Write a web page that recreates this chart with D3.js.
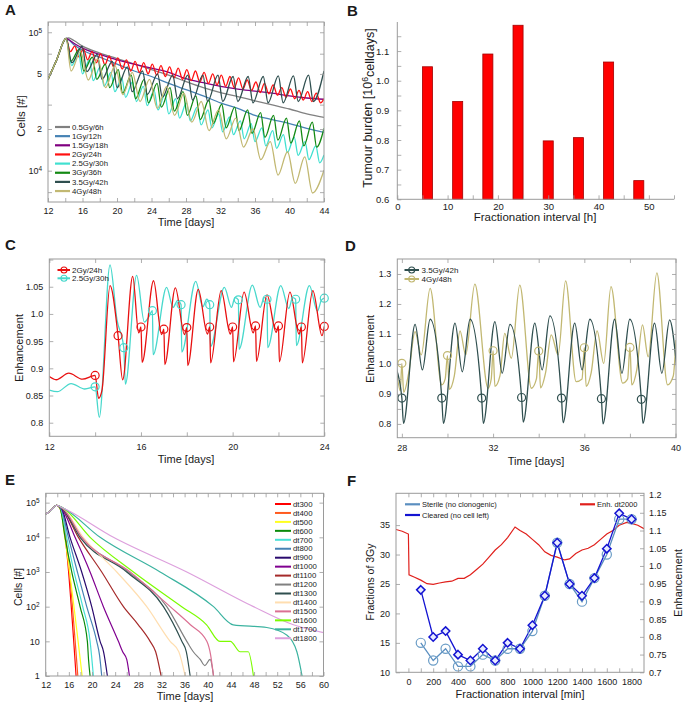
<!DOCTYPE html>
<html><head><meta charset="utf-8">
<script src="https://cdn.jsdelivr.net/npm/d3@7"></script>
<style>body{margin:0;background:#fff;}</style>
</head><body>
<svg id="fig" width="684" height="705"></svg>
<script>
// ================= DATA =================
// Panel A : cells (thousands) vs time (days)
const a_common = [[12,45.7],[13,63.1],[14.1,90.2]];
const a_gray = [[14.1,90.2],[14.4,91.2],[15,87.1],[16,79.4],[18,70.8],[20,64.6],[22,58.9],[24,53.7],[26,49.0],[28,44.0],[30,39.8],[32,36.7],[34,34.3],[36,32.0],[38,29.9],[40,27.9],[42,25.7],[44,24.3]];
const a_blue = [[14.1,90.2],[14.3,89.1],[15,81.3],[16,74.1],[18,66.1],[20,58.9],[22,52.5],[24,47.9],[26,42.7],[28,38.5],[30,34.7],[32,30.9],[34,28.2],[36,25.1],[38,23.4],[40,21.9],[42,20.2],[44,18.9]];
const a_purple = [[14.1,90.2],[14.3,89.1],[15,83.2],[16,76.7],[18,69.2],[20,63.1],[22,58.9],[24,55.0],[26,51.3],[28,46.2],[30,43.2],[32,40.7],[34,38.9],[36,37.6],[38,36.3],[40,34.7],[42,33.5],[44,32.8]];
const a_red = [[14.1,90.2],[14.6,72.4],[15.1,79.4],[15.6,66.1],[16.1,75.9],[16.6,63.1],[17.1,72.4],[17.6,60.3],[18.1,70.0],[18.6,58.2],[19.1,67.6],[19.6,56.2],[20.1,65.3],[20.6,54.3],[21.1,63.1],[21.6,52.5],[22.1,61.7],[22.6,51.3],[23.1,60.3],[23.6,50.1],[24.1,58.9],[24.6,49.0],[25.1,57.5],[25.6,47.9],[26.1,56.2],[26.6,46.8],[27.1,55.0],[27.6,45.7],[28.1,53.7],[28.6,44.7],[29.1,52.5],[29.6,43.7],[30.1,51.3],[30.6,42.7],[31.1,50.1],[31.6,41.7],[32.1,49.0],[32.6,40.7],[33.1,47.9],[33.6,39.8],[34.1,46.8],[34.6,38.9],[35.1,45.2],[35.6,38.0],[36.1,43.7],[36.6,36.7],[37.1,42.7],[37.6,35.9],[38.1,41.7],[38.6,35.1],[39.1,39.8],[39.6,33.9],[40.1,38.9],[40.6,33.1],[41.1,38.0],[41.6,32.4],[42.1,37.2],[42.6,31.6],[43.1,36.3],[43.6,30.9],[44,33.0]];
const a_turq = [[14.1,90.2],[14.75,57.5],[15.55,70.8],[16.0,50.1],[16.8,63.1],[17.25,44.7],[18.05,56.2],[18.5,40.7],[19.3,51.3],[19.75,37.2],[20.55,46.8],[21.0,33.9],[21.8,43.7],[22.25,31.6],[23.05,40.7],[23.5,29.5],[24.3,38.0],[24.75,27.5],[25.55,35.5],[26.0,25.7],[26.8,33.1],[27.25,24.0],[28.05,30.9],[28.5,22.9],[29.3,28.8],[29.75,21.4],[30.55,27.5],[31.0,20.4],[31.8,25.7],[32.25,19.1],[33.05,24.5],[33.5,18.2],[34.3,22.9],[34.75,17.0],[35.55,21.9],[36.0,16.2],[36.8,20.4],[37.25,15.1],[38.05,19.5],[38.5,14.5],[39.3,18.2],[39.75,13.5],[40.55,17.4],[41.0,12.9],[41.8,16.2],[42.25,12.0],[43.05,15.1],[43.5,11.4],[44,13.0]];
const a_green = [[14.1,90.2],[14.65,61.7],[15.65,75.9],[16.15,52.5],[17.15,66.1],[17.65,45.7],[18.65,58.9],[19.15,39.8],[20.15,53.7],[20.65,36.3],[21.65,49.0],[22.15,33.1],[23.15,45.7],[23.65,30.9],[24.65,42.7],[25.15,28.8],[26.15,39.8],[26.65,26.9],[27.65,37.2],[28.15,25.1],[29.15,34.7],[29.65,23.4],[30.65,32.4],[31.15,21.9],[32.15,30.2],[32.65,20.4],[33.65,28.8],[34.15,19.5],[35.15,27.5],[35.65,18.6],[36.65,26.3],[37.15,17.4],[38.15,25.1],[38.65,16.6],[39.65,24.0],[40.15,15.8],[41.15,22.9],[41.65,15.1],[42.65,22.4],[43.15,14.8],[44,20.2]];
const a_dark = [[14.1,90.2],[14.76,60.3],[15.96,79.4],[16.51,51.9],[17.71,69.2],[18.26,45.7],[19.46,61.7],[20.01,39.8],[21.21,56.2],[21.76,37.2],[22.96,52.5],[23.51,35.5],[24.71,50.1],[25.26,33.9],[26.46,49.0],[27.01,33.1],[28.21,49.0],[28.76,32.4],[29.96,49.0],[30.51,31.6],[31.71,49.0],[32.26,31.6],[33.46,47.9],[34.01,31.6],[35.21,47.9],[35.76,30.9],[36.96,47.9],[37.51,30.9],[38.71,48.4],[39.26,30.9],[40.46,48.4],[41.01,31.6],[42.21,49.0],[42.76,31.6],[44,52.5]];
const a_khaki = [[14.1,90.2],[14.67,52.5],[15.77,72.4],[16.67,45.2],[17.77,64.6],[18.67,39.8],[19.77,57.5],[20.67,35.5],[21.77,51.3],[22.67,31.6],[23.77,45.7],[24.67,28.2],[25.77,40.7],[26.67,25.1],[27.77,36.3],[28.67,22.4],[29.77,31.6],[30.67,19.5],[31.77,27.5],[32.67,17.0],[33.77,24.0],[34.67,14.8],[35.77,20.0],[36.67,12.0],[37.77,16.2],[38.67,9.3],[39.77,13.7],[40.67,8.1],[41.77,12.6],[42.67,6.9],[44,10.1]];
const a_names = ["0.5Gy/6h","1Gy/12h","1.5Gy/18h","2Gy/24h","2.5Gy/30h","3Gy/36h","3.5Gy/42h","4Gy/48h"];
const a_colors = ["#808080","#4682b4","#800080","#ff1010","#40e0d0","#138a13","#2f4f4f","#c2b872"];
const a_xTicks = [12,14,16,18,20,22,24,26,28,30,32,34,36,38,40,42,44];
const a_xLabels = ["12","","16","","20","","24","","28","","32","","36","","40","","44"];
const a_yTicks = [7,10,20,30,50,70,100];
const a_yLabels = ["","10^4","2","","5","","10^5"];

// Panel B : tumour burden (10^6 celldays) vs fractionation interval (h)
const b_interval = [6,12,18,24,30,36,42,48];
const b_burden = [1.047,0.930,1.090,1.187,0.797,0.808,1.063,0.663];
const b_xTicks = [0,5,10,15,20,25,30,35,40,45,50,55];
const b_xLabels = ["0","","10","","20","","30","","40","","50",""];
const b_yTicks = [0.6,0.65,0.7,0.75,0.8,0.85,0.9,0.95,1.0,1.05,1.1,1.15];
const b_yLabels = ["0.6","","0.7","","0.8","","0.9","","1.0","","1.1",""];

// Panel C : enhancement vs time (days)
const c_red = [[12,0.885],[12.3,0.879],[12.85,0.891],[13.45,0.880],[13.9,0.886],[14.0,0.887],[14.15,0.845],[14.3,0.86],[14.65,1.052],[15.0,0.96],[15.2,0.879],[15.64,1.069],[15.9,0.965],[16.0,0.976],[16.05,0.911],[16.55,1.061],[16.9,0.962],[17.0,0.972],[17.04,0.907],[17.5,1.048],[17.9,0.962],[18.0,0.975],[18.04,0.905],[18.5,1.045],[18.9,0.963],[19.0,0.976],[19.04,0.91],[19.5,1.043],[19.9,0.963],[20.0,0.976],[20.04,0.912],[20.5,1.04],[20.9,0.965],[21.0,0.978],[21.04,0.913],[21.5,1.035],[21.9,0.966],[22.0,0.978],[22.04,0.912],[22.5,1.04],[22.9,0.963],[23.0,0.976],[23.04,0.91],[23.5,1.043],[23.9,0.96],[24.0,0.977]];
const c_redDoses = [[14,0.887],[15,0.96],[16,0.976],[17,0.972],[18,0.975],[19,0.976],[20,0.976],[21,0.978],[22,0.978],[23,0.976],[24,0.977]];
const c_turq = [[12,0.86],[12.35,0.857],[12.95,0.872],[13.55,0.862],[14,0.866],[14.18,0.81],[14.65,1.09],[14.95,0.99],[15.25,0.938],[15.32,0.871],[15.81,1.071],[16.15,0.985],[16.35,0.995],[16.5,1.006],[16.53,0.925],[17.12,1.049],[17.4,1.012],[17.6,1.025],[17.75,1.017],[17.78,0.93],[18.39,1.06],[18.7,1.013],[18.87,1.027],[19.0,1.017],[19.03,0.94],[19.64,1.049],[19.95,1.012],[20.1,1.03],[20.25,1.026],[20.28,0.935],[20.86,1.053],[21.2,1.012],[21.38,1.03],[21.5,1.027],[21.53,0.938],[22.1,1.052],[22.45,1.01],[22.62,1.03],[22.75,1.027],[22.78,0.942],[23.35,1.052],[23.7,1.005],[23.87,1.025],[24,1.029]];
const c_turqDoses = [[14,0.866],[15.25,0.938],[16.5,1.006],[17.75,1.017],[19,1.017],[20.25,1.026],[21.5,1.027],[22.75,1.027],[24,1.029]];
const c_xTicks = [12,14,16,18,20,22,24];
const c_xLabels = ["12","","16","","20","","24"];
const c_yTicks = [0.8,0.85,0.9,0.95,1.0,1.05,1.1];
const c_yLabels = ["0.8","0.85","0.9","0.95","1.0","1.05",""];

// Panel D : enhancement vs time (days)
const d_dark = [[27.75,0.985],[28,0.886],[28.07,0.802],[28.58,1.132],[28.9,0.98],[29.24,1.149],[29.75,0.886],[29.82,0.802],[30.33,1.136],[30.65,0.974],[30.99,1.149],[31.5,0.886],[31.57,0.802],[32.08,1.141],[32.4,0.969],[32.74,1.132],[33.25,0.888],[33.32,0.806],[33.83,1.136],[34.15,0.98],[34.49,1.16],[35,0.886],[35.07,0.804],[35.58,1.136],[35.9,0.98],[36.24,1.149],[36.75,0.884],[36.82,0.8],[37.33,1.149],[37.65,0.969],[37.99,1.149],[38.5,0.882],[38.57,0.802],[39.08,1.136],[39.4,0.969],[39.74,1.147],[40.05,0.99]];
const d_darkDoses = [[28,0.886],[29.75,0.886],[31.5,0.886],[33.25,0.888],[35,0.886],[36.75,0.884],[38.5,0.882]];
const d_khaki = [[27.8,0.96],[27.93,0.91],[28,1.002],[28.08,0.905],[28.3,0.97],[28.58,1.108],[28.85,1.03],[29.24,1.252],[29.75,0.93],[29.9,0.95],[30,1.028],[30.08,0.915],[30.3,0.96],[30.55,1.11],[30.8,1.03],[31.2,1.266],[31.78,0.919],[31.92,0.95],[32,1.044],[32.08,0.925],[32.3,0.96],[32.51,1.102],[32.8,1.019],[33.17,1.263],[33.68,0.919],[33.9,0.95],[34,1.043],[34.08,0.92],[34.3,0.97],[34.55,1.097],[34.85,1.03],[35.18,1.277],[35.64,0.941],[35.9,0.95],[36,1.054],[36.08,0.925],[36.3,0.97],[36.56,1.11],[36.85,1.002],[37.17,1.258],[37.68,0.936],[37.9,0.95],[38,1.055],[38.08,0.93],[38.3,0.98],[38.55,1.13],[38.8,1.024],[39.18,1.304],[39.65,0.93],[39.9,0.96],[40.02,1.08]];
const d_khakiDoses = [[28,1.002],[30,1.028],[32,1.044],[34,1.043],[36,1.054],[38,1.055]];
const d_xTicks = [28,30,32,34,36,38,40];
const d_xLabels = ["28","","32","","36","","40"];
const d_yTicks = [0.8,0.85,0.9,0.95,1.0,1.05,1.1,1.15,1.2,1.25,1.3];
const d_yLabels = ["0.8","","0.9","","1.0","","1.1","","1.2","","1.3"];

// Panel E : cells vs time for fractionation intervals dt (min)
const e_common = [[12,4.6e4],[13,6.2e4],[13.9,8.4e4]];
const e_names = ["dt300","dt400","dt500","dt600","dt700","dt800","dt900","dt1000","dt1100","dt1200","dt1300","dt1400","dt1500","dt1600","dt1700","dt1800"];
const e_colors = ["#ff0000","#ff5a1e","#ffff20","#0a8a0a","#48e0d6","#4682b4","#2a0a6e","#800090","#a52a2a","#808080","#2f4f4f","#ffdeb0","#db7093","#7cfc00","#3cb3a0","#dda0dd"];
const e_series = [
  [[14.5,6.8e4],[17.25,1]],
  [[14.5,6.8e4],[17.55,1]],
  [[14.5,6.8e4],[15.3,1e4],[18.3,1]],
  [[14.5,6.8e4],[15.34,1e4],[16.5,1e3],[17.94,100],[19.2,10],[19.4,3],[19.67,1]],
  [[14.6,6.8e4],[15.63,1e4],[16.9,1e3],[18.4,100],[19.67,10],[20.24,1]],
  [[14.6,7e4],[15.92,1e4],[17.48,1e3],[19.09,100],[20.82,10],[21.3,4],[21.68,1]],
  [[14.7,7e4],[16.2,1e4],[18.22,1e3],[19.95,100],[21.4,10],[22.0,5],[22.66,1]],
  [[14.7,7e4],[17.07,1e4],[19.67,1e3],[21.97,100],[24.56,10],[25.3,5],[26,3],[26.47,1]],
  [[14.8,7e4],[17.65,1e4],[21.68,1e3],[25.43,100],[28,30],[30.04,10],[31,5],[31.94,1]],
  [[14.8,7e4],[18.22,1e4],[26.3,1e3],[32.92,100],[36.38,10],[37.5,5],[38.7,3],[39.5,2],[40.4,3],[41,1]],
  [[14.8,7e4],[17.94,1e4],[26,1e3],[32.35,100],[35.52,10],[36.3,5],[36.96,1]],
  [[14.9,7e4],[18.5,1e4],[24.28,1e3],[29.46,100],[33.5,10],[35,5],[36.1,1]],
  [[14.9,7e4],[18.22,1e4],[26.6,1e3],[33.5,100],[37,30],[39.84,10],[40.5,4],[41,1]],
  [[15,7e4],[19.67,1e4],[27.16,1e3],[35.5,100],[39.8,30],[42.1,10],[43.9,10],[45.6,5],[47,5],[47.9,1]],
  [[15,7e4],[21.4,1e4],[31.77,1e3],[41,100],[44.4,30],[50.2,25],[53.7,15],[55.4,5],[56.3,1]],
  [[15,7e4],[23.7,1e4],[36.38,1e3],[47.9,100],[54.8,30],[60,17.8]]
];
const e_xTicks = [12,14,16,18,20,22,24,26,28,30,32,34,36,38,40,42,44,46,48,50,52,54,56,58,60];
const e_xLabels = e_xTicks.map(d => d % 4 === 0 ? String(d) : "");
const e_yTicks = [1,10,100,1000,10000,100000];
const e_yLabels = ["1","10","10^2","10^3","10^4","10^5"];

// Panel F : fractions of 3Gy and enhancement vs fractionation interval (min)
const f_interval = [100,200,300,400,500,600,700,800,900,1000,1100,1200,1300,1400,1500,1600,1700,1800];
const f_sterile = [15,12,14,11,11,13,12,14,14,17,23,32,25,22,26,30,36,36];
const f_cleared = [24,16,17,13,12,14,12,15,14,18,23,32,25,23,26,31,37,36];
const f_enh = [[-100,1.103],[-50,1.098],[0,1.09],[5,0.975],[50,0.968],[100,0.96],[150,0.95],[200,0.948],[250,0.952],[300,0.955],[350,0.957],[400,0.965],[450,0.965],[500,0.975],[550,0.99],[600,1.005],[650,1.025],[700,1.045],[750,1.06],[800,1.08],[860,1.11],[900,1.1],[950,1.09],[1000,1.075],[1050,1.06],[1100,1.04],[1150,1.03],[1200,1.025],[1260,1.017],[1300,1.02],[1350,1.035],[1400,1.045],[1450,1.05],[1500,1.06],[1550,1.075],[1600,1.09],[1650,1.1],[1700,1.115],[1760,1.123],[1800,1.12],[1850,1.115],[1900,1.105]];
const f_xTicks = [0,100,200,300,400,500,600,700,800,900,1000,1100,1200,1300,1400,1500,1600,1700,1800];
const f_xLabels = f_xTicks.map(d => d % 200 === 0 ? String(d) : "");
const f_yTicks = [10,15,20,25,30,35];
const f_yLabels = ["10","15","20","25","30","35"];
const f_rTicks = [0.7,0.75,0.8,0.85,0.9,0.95,1.0,1.05,1.1,1.15,1.2];
const f_rLabels = ["0.7","0.75","0.8","0.85","0.9","0.95","1.0","1.05","1.1","1.15","1.2"];

// ================= DRAWING =================
const FONT = '"Liberation Sans", Arial, Helvetica, sans-serif';
const FR = "#9a9a9a";
const TXT = "#1a1a1a";
const svg = d3.select("#fig").attr("font-family", FONT);
const defs = svg.append("defs");

function sup(g) {
  g.selectAll("text").each(function() {
    const t = d3.select(this), s = t.text();
    if (s.includes("^")) {
      const [b, e] = s.split("^");
      t.text(b);
      t.append("tspan").attr("dy", "-0.45em").attr("font-size", "0.72em").text(e);
    }
  });
}
function drawAxis(orient, scale, pos, ticks, labels, o = {}) {
  const gen = {b: d3.axisBottom, t: d3.axisTop, l: d3.axisLeft, r: d3.axisRight}[orient](scale)
    .tickValues(ticks).tickSize(-(o.len ?? 4)).tickPadding(o.pad ?? 5)
    .tickFormat((d, i) => labels ? labels[i] : "");
  const tr = (orient === "b" || orient === "t") ? `translate(0,${pos})` : `translate(${pos},0)`;
  const g = svg.append("g").attr("transform", tr).call(gen);
  g.attr("font-family", FONT).attr("font-size", null);
  g.select(".domain").remove();
  g.selectAll(".tick line").attr("stroke", FR).attr("stroke-width", 0.8);
  g.selectAll(".tick text").attr("fill", TXT).attr("font-size", (o.fs || 9) + "px");
  sup(g);
  return g;
}
function frame(x, y) {
  const [x0, x1] = x.range(), [y0, y1] = y.range();
  svg.append("rect").attr("x", x0).attr("y", y1).attr("width", x1 - x0).attr("height", y0 - y1)
    .attr("fill", "none").attr("stroke", FR).attr("stroke-width", 1);
}
function clip(id, x, y) {
  const [x0, x1] = x.range(), [y0, y1] = y.range();
  defs.append("clipPath").attr("id", id).append("rect")
    .attr("x", x0).attr("y", y1).attr("width", x1 - x0).attr("height", y0 - y1);
  return svg.append("g").attr("clip-path", `url(#${id})`);
}
function label(x, y, s, o = {}) {
  const t = svg.append("text").attr("x", x).attr("y", y).text(s)
    .attr("font-size", (o.fs || 11) + "px").attr("fill", TXT)
    .attr("text-anchor", o.anchor || "start").attr("font-weight", o.bold ? "bold" : "normal");
  if (o.rot) t.attr("x", 0).attr("y", 0).attr("transform", `translate(${x},${y}) rotate(-90)`);
  return t;
}
const mono = (x, y) => d3.line().x(d => x(d[0])).y(d => y(d[1])).curve(d3.curveMonotoneX);

// ---------- Panel A ----------
{
  const x = d3.scaleLinear().domain([12, 44]).range([48, 324]);
  const y = d3.scaleLog().domain([5.94, 118.6]).range([202, 22]);
  const g = clip("clipA", x, y);
  const series = [a_gray, a_blue, a_purple, a_red, a_turq, a_green, a_dark, a_khaki];
  series.forEach((s, i) => {
    g.append("path").datum(a_common.concat(s.slice(1))).attr("d", mono(x, y))
      .attr("fill", "none").attr("stroke", a_colors[i]).attr("stroke-width", 1.3);
  });
  frame(x, y);
  drawAxis("b", x, 202, a_xTicks, a_xLabels, {pad: 5.5});
  drawAxis("t", x, 22, a_xTicks, null);
  drawAxis("l", y, 48, a_yTicks, a_yLabels, {pad: 6});
  drawAxis("r", y, 324, a_yTicks, null);
  a_names.forEach((n, i) => {
    const yy = 127 + 9.15 * i;
    svg.append("line").attr("x1", 55).attr("x2", 70).attr("y1", yy).attr("y2", yy)
      .attr("stroke", a_colors[i]).attr("stroke-width", 2.2);
    label(72, yy + 2.7, n, {fs: 7.8});
  });
  label(186, 226, "Time [days]", {fs: 11, anchor: "middle"});
  label(25, 116, "Cells [#]", {fs: 11.5, anchor: "middle", rot: true});
  label(5, 15, "A", {fs: 15, bold: true});
}

// ---------- Panel B ----------
{
  const x = d3.scaleLinear().domain([0, 55]).range([397.3, 674]);
  const y = d3.scaleLinear().domain([0.6, 1.198]).range([199.3, 22]);
  svg.append("g").selectAll("rect").data(b_interval).join("rect")
    .attr("x", (d) => x(d - 1)).attr("width", x(2) - x(0))
    .attr("y", (d, i) => y(b_burden[i])).attr("height", (d, i) => y(0.6) - y(b_burden[i]))
    .attr("fill", "#ff0000").attr("stroke", "#a30000").attr("stroke-width", 0.8);
  svg.append("line").attr("x1", 397.3).attr("x2", 397.3).attr("y1", 22).attr("y2", 199.3).attr("stroke", FR);
  svg.append("line").attr("x1", 397.3).attr("x2", 674).attr("y1", 199.3).attr("y2", 199.3).attr("stroke", FR);
  drawAxis("b", x, 199.3, b_xTicks, b_xLabels, {pad: 3.5, fs: 9.5});
  drawAxis("l", y, 397.3, b_yTicks, b_yLabels, {pad: 8, fs: 9.5});
  label(535, 221, "Fractionation interval [h]", {fs: 11.5, anchor: "middle"});
  const t = label(372, 108, "Tumour burden [10", {fs: 12.5, anchor: "middle", rot: true});
  t.append("tspan").attr("dy", "-0.45em").attr("font-size", "0.7em").text("6");
  t.append("tspan").attr("dy", "0.45em").text("celldays]");
  label(347, 16, "B", {fs: 15, bold: true});
}

// ---------- Panel C ----------
{
  const x = d3.scaleLinear().domain([12, 24]).range([49.3, 324.3]);
  const y = d3.scaleLinear().domain([0.775, 1.101]).range([436.3, 259]);
  const g = clip("clipC", x, y);
  g.append("path").datum(c_turq).attr("d", mono(x, y)).attr("fill", "none").attr("stroke", "#48d8cc").attr("stroke-width", 1.3);
  g.append("path").datum(c_red).attr("d", mono(x, y)).attr("fill", "none").attr("stroke", "#e81010").attr("stroke-width", 1.3);
  svg.append("g").selectAll("circle").data(c_turqDoses).join("circle")
    .attr("cx", d => x(d[0])).attr("cy", d => y(d[1])).attr("r", 4)
    .attr("fill", "none").attr("stroke", "#48d8cc").attr("stroke-width", 1.2);
  svg.append("g").selectAll("circle").data(c_redDoses).join("circle")
    .attr("cx", d => x(d[0])).attr("cy", d => y(d[1])).attr("r", 4)
    .attr("fill", "none").attr("stroke", "#e81010").attr("stroke-width", 1.2);
  frame(x, y);
  drawAxis("b", x, 436.3, c_xTicks, c_xLabels, {pad: 7});
  drawAxis("t", x, 259, c_xTicks, null);
  drawAxis("l", y, 49.3, c_yTicks, c_yLabels, {pad: 6});
  drawAxis("r", y, 324.3, c_yTicks, null);
  [["2Gy/24h", "#e81010", 270], ["2.5Gy/30h", "#48d8cc", 278.3]].forEach(([n, c, yy]) => {
    svg.append("line").attr("x1", 57.5).attr("x2", 70).attr("y1", yy).attr("y2", yy).attr("stroke", c).attr("stroke-width", 2);
    svg.append("circle").attr("cx", 64).attr("cy", yy).attr("r", 3).attr("fill", "none").attr("stroke", c).attr("stroke-width", 1.1);
    label(72, yy + 2.8, n, {fs: 8});
  });
  label(186, 462.5, "Time [days]", {fs: 11, anchor: "middle"});
  label(22.5, 348, "Enhancement", {fs: 11, anchor: "middle", rot: true});
  label(5, 250, "C", {fs: 15, bold: true});
}

// ---------- Panel D ----------
{
  const x = d3.scaleLinear().domain([27.8, 40.02]).range([397.3, 676]);
  const y = d3.scaleLinear().domain([0.754, 1.35]).range([437.7, 259]);
  const g = clip("clipD", x, y);
  g.append("path").datum(d_khaki).attr("d", mono(x, y)).attr("fill", "none").attr("stroke", "#c2b872").attr("stroke-width", 1.3);
  g.append("path").datum(d_dark).attr("d", mono(x, y)).attr("fill", "none").attr("stroke", "#2f4f4f").attr("stroke-width", 1.3);
  svg.append("g").selectAll("circle").data(d_khakiDoses).join("circle")
    .attr("cx", d => x(d[0])).attr("cy", d => y(d[1])).attr("r", 4)
    .attr("fill", "none").attr("stroke", "#c2b872").attr("stroke-width", 1.2);
  svg.append("g").selectAll("circle").data(d_darkDoses).join("circle")
    .attr("cx", d => x(d[0])).attr("cy", d => y(d[1])).attr("r", 4)
    .attr("fill", "none").attr("stroke", "#2f4f4f").attr("stroke-width", 1.2);
  frame(x, y);
  drawAxis("b", x, 437.7, d_xTicks, d_xLabels, {pad: 7});
  drawAxis("t", x, 259, d_xTicks, null);
  drawAxis("l", y, 397.3, d_yTicks, d_yLabels, {pad: 6});
  drawAxis("r", y, 676, d_yTicks, null);
  [["3.5Gy/42h", "#2f4f4f", 270], ["4Gy/48h", "#c2b872", 279]].forEach(([n, c, yy]) => {
    svg.append("line").attr("x1", 404.5).attr("x2", 419).attr("y1", yy).attr("y2", yy).attr("stroke", c).attr("stroke-width", 2);
    svg.append("circle").attr("cx", 411.7).attr("cy", yy).attr("r", 3).attr("fill", "none").attr("stroke", c).attr("stroke-width", 1.1);
    label(421.5, yy + 2.8, n, {fs: 8});
  });
  label(536, 464.5, "Time [days]", {fs: 11, anchor: "middle"});
  label(374, 349, "Enhancement", {fs: 11, anchor: "middle", rot: true});
  label(345, 251, "D", {fs: 15, bold: true});
}

// ---------- Panel E ----------
{
  const x = d3.scaleLinear().domain([12, 60]).range([45.7, 323.5]);
  const y = d3.scaleLog().domain([1, 1.86e5]).range([676, 493.3]);
  const g = clip("clipE", x, y);
  e_series.forEach((s, i) => {
    g.append("path").datum(e_common.concat(s)).attr("d", mono(x, y))
      .attr("fill", "none").attr("stroke", e_colors[i]).attr("stroke-width", 1.2);
  });
  frame(x, y);
  drawAxis("b", x, 676, e_xTicks, e_xLabels, {pad: 6});
  drawAxis("t", x, 493.3, e_xTicks, null);
  drawAxis("l", y, 45.7, e_yTicks, e_yLabels, {pad: 6});
  drawAxis("r", y, 323.5, e_yTicks, null);
  e_names.forEach((n, i) => {
    const yy = 504 + 8.95 * i;
    svg.append("line").attr("x1", 275).attr("x2", 291).attr("y1", yy).attr("y2", yy)
      .attr("stroke", e_colors[i]).attr("stroke-width", 2);
    label(293, yy + 2.7, n, {fs: 7.8});
  });
  label(185, 699.5, "Time [days]", {fs: 11, anchor: "middle"});
  label(22, 587, "Cells [#]", {fs: 10.5, anchor: "middle", rot: true});
  label(5, 485, "E", {fs: 15, bold: true});
}

// ---------- Panel F ----------
{
  const x = d3.scaleLinear().domain([-100, 1900]).range([396, 644]);
  const y = d3.scaleLinear().domain([10, 40.4]).range([672.3, 493.3]);
  const yr = d3.scaleLinear().domain([0.7, 1.205]).range([672.3, 493.3]);
  const g = clip("clipF", x, y);
  g.append("path").datum(f_enh).attr("d", d3.line().x(d => x(d[0])).y(d => yr(d[1])))
    .attr("fill", "none").attr("stroke", "#e0201c").attr("stroke-width", 1.2);
  const sterile = f_interval.map((t, i) => [t, f_sterile[i]]);
  const cleared = f_interval.map((t, i) => [t, f_cleared[i]]);
  const lin = d3.line().x(d => x(d[0])).y(d => y(d[1]));
  g.append("path").datum(sterile).attr("d", lin).attr("fill", "none").attr("stroke", "#5b8fc0").attr("stroke-width", 1.3);
  svg.append("g").selectAll("circle").data(sterile).join("circle")
    .attr("cx", d => x(d[0])).attr("cy", d => y(d[1])).attr("r", 4.6)
    .attr("fill", "none").attr("stroke", "#6a9cc6").attr("stroke-width", 1.2);
  g.append("path").datum(cleared).attr("d", lin).attr("fill", "none").attr("stroke", "#1414d2").attr("stroke-width", 1.3);
  svg.append("g").selectAll("path").data(cleared).join("path")
    .attr("d", d => { const cx = x(d[0]), cy = y(d[1]), r = 4.2; return `M${cx},${cy - r}L${cx + r},${cy}L${cx},${cy + r}L${cx - r},${cy}Z`; })
    .attr("fill", "#e8ecff").attr("stroke", "#1414d2").attr("stroke-width", 1.5);
  frame(x, y);
  drawAxis("b", x, 672.3, f_xTicks, f_xLabels, {pad: 6.5});
  drawAxis("t", x, 493.3, f_xTicks, null);
  drawAxis("l", y, 396, f_yTicks, f_yLabels, {pad: 6});
  drawAxis("r", yr, 644, f_rTicks, f_rLabels, {pad: 5});
  [["Sterile (no clonogenic)", "#5b8fc0", 504.3], ["Cleared (no cell left)", "#1414d2", 515]].forEach(([n, c, yy]) => {
    svg.append("line").attr("x1", 405).attr("x2", 420).attr("y1", yy).attr("y2", yy).attr("stroke", c).attr("stroke-width", 2.2);
    label(422, yy + 2.6, n, {fs: 7.5});
  });
  svg.append("line").attr("x1", 580).attr("x2", 595).attr("y1", 504.3).attr("y2", 504.3).attr("stroke", "#e0201c").attr("stroke-width", 2.2);
  label(597, 506.9, "Enh. dt2000", {fs: 7.5});
  label(520, 698, "Fractionation interval [min]", {fs: 11, anchor: "middle"});
  label(374, 582, "Fractions of 3Gy", {fs: 10.5, anchor: "middle", rot: true});
  label(682, 583, "Enhancement", {fs: 11, anchor: "middle", rot: true});
  label(347, 486, "F", {fs: 15, bold: true});
}
</script>
</body></html>
